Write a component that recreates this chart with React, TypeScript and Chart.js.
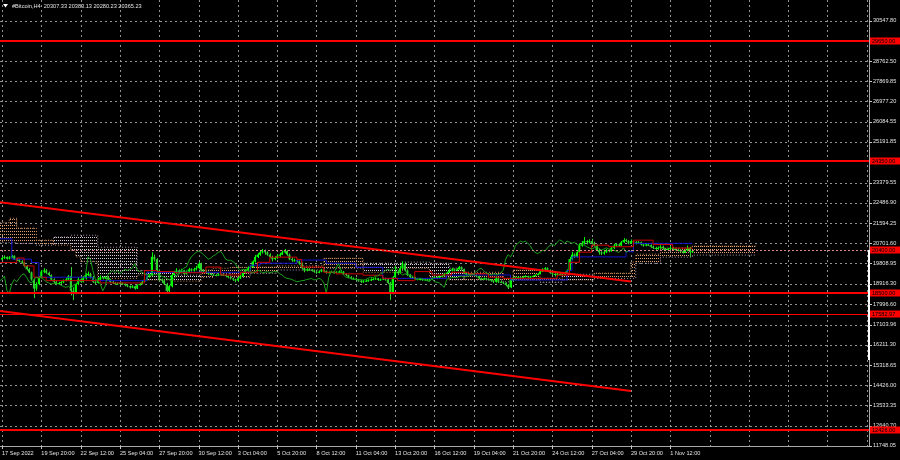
import React, { useEffect, useRef } from "react";
import { Chart, registerables } from "chart.js";

Chart.register(...registerables);

// ---------- DATA ----------
const titleText = "#Bitcoin,H4  20307.33 20383.13 20280.23 20365.23";
const firstOpen = 19980;

const closes = [
  20050, 20100, 20020, 20080, 20150, 20000,
  19980, 19900, 19850, 19700, 19550, 19420,
  19100, 18700, 18900, 19200, 19450, 19500,
  19400, 19300, 19100, 19000, 18900, 18950,
  18980, 19050, 19100, 19250, 18600, 18500,
  18900, 19100, 19000, 19150, 19300, 19350,
  19200, 19000, 18950, 19100, 19200, 19150,
  19200, 19100, 19000, 18950, 18900, 18920,
  18950, 18900, 18850, 18800, 18750, 18800,
  18700, 18850, 18900, 19000, 19100, 19200,
  19300, 20100, 20000, 19500, 19100, 19050,
  18900, 18600, 18800, 19300, 19400, 19500,
  19400, 19500, 19350, 19450, 19550, 19500,
  19550, 19600, 19800, 19500, 19450, 19420,
  19350, 19320, 19300, 19280, 19320, 19310,
  19300, 19250, 19200, 19150, 19100, 19050,
  19150, 19250, 19400, 19500, 19600, 19650,
  19900, 20100, 20200, 20300, 20350, 20300,
  20200, 20100, 20000, 20050, 20150, 20200,
  20300, 20350, 20200, 20000, 19950, 19950,
  19900, 19800, 19600, 19500, 19550, 19530,
  19500, 19450, 19400, 19450, 19500, 19480,
  19400, 19420, 19450, 19400, 19430, 19450,
  19450, 19350, 19300, 19200, 19150, 19130,
  19100, 19050, 19000, 19020, 19050, 19060,
  19100, 19120, 19150, 19080, 19100, 19150,
  19100, 18950, 18500, 19200, 19450, 19380,
  19600, 19800, 19500, 19300, 19200, 19180,
  19150, 19100, 19120, 19080, 19100, 19070,
  19100, 19150, 19200, 19180, 19250, 19260,
  19350, 19400, 19500, 19550, 19500, 19550,
  19650, 19550, 19400, 19300, 19350, 19330,
  19300, 19250, 19150, 19100, 19150, 19120,
  19100, 19050, 19000, 19150, 19000, 18980,
  18950, 18850, 18750, 19100, 19150, 19180,
  19200, 19180, 19220, 19250, 19200, 19230,
  19250, 19300, 19350, 19450, 19550, 19600,
  19500, 19400, 19350, 19300, 19350, 19330,
  19320, 19400, 19500, 20000, 20200, 20100,
  20300, 20600, 20700, 20800, 20750, 20800,
  20700, 20600, 20400, 20300, 20250, 20300,
  20400, 20350, 20500, 20600, 20650, 20600,
  20750, 20850, 20800, 20700, 20800, 20750,
  20700, 20750, 20650, 20600, 20650, 20620,
  20550, 20500, 20450, 20500, 20550, 20480,
  20400, 20450, 20500, 20450, 20420, 20400,
  20350, 20300, 20380, 20500, 20307, 20365,
];

const highs = [
  20090, 20160, 20120, 20130, 20190, 20170,
  20060, 20020, 19950, 19880, 19740, 19600,
  19450, 19150, 18980, 19260, 19520, 19600,
  19560, 19450, 19330, 19150, 19050, 19000,
  19030, 19100, 19160, 19300, 19650, 18750,
  18950, 19200, 19150, 19250, 19380, 19450,
  19400, 19250, 19080, 19180, 19280, 19230,
  19250, 19230, 19130, 19050, 18990, 18970,
  18990, 18980, 18930, 18900, 18840, 18850,
  18830, 18880, 18960, 19070, 19150, 19260,
  19350, 20300, 20200, 20050, 19550, 19150,
  19100, 18950, 18850, 19350, 19480, 19600,
  19550, 19580, 19530, 19500, 19620, 19600,
  19620, 19700, 19870, 19850, 19560, 19520,
  19450, 19400, 19360, 19340, 19380, 19360,
  19350, 19330, 19280, 19230, 19180, 19130,
  19200, 19300, 19450, 19560, 19680, 19740,
  19950, 20180, 20270, 20400, 20450, 20420,
  20350, 20260, 20150, 20120, 20220, 20280,
  20380, 20450, 20400, 20250, 20080, 20020,
  20000, 19950, 19850, 19650, 19600, 19600,
  19560, 19530, 19480, 19500, 19560, 19540,
  19500, 19460, 19490, 19470, 19470, 19500,
  19520, 19480, 19380, 19320, 19250, 19200,
  19180, 19130, 19080, 19080, 19100, 19110,
  19150, 19160, 19200, 19170, 19140, 19190,
  19180, 19130, 19000, 19250, 19700, 19500,
  19700, 19900, 19850, 19550, 19350, 19260,
  19220, 19180, 19160, 19150, 19140, 19130,
  19130, 19190, 19240, 19230, 19290, 19300,
  19390, 19450, 19560, 19620, 19590, 19600,
  19700, 19680, 19580, 19430, 19380, 19380,
  19370, 19330, 19280, 19180, 19190, 19180,
  19160, 19120, 19080, 19250, 19200, 19050,
  19000, 18980, 18900, 19150, 19220, 19230,
  19240, 19230, 19260, 19290, 19270, 19260,
  19280, 19330, 19390, 19500, 19600, 19650,
  19640, 19550, 19450, 19380, 19400, 19380,
  19360, 19450, 19550, 20100, 20320, 20250,
  20350, 20700, 20800, 20980, 20850, 20880,
  20900, 20780, 20650, 20450, 20350, 20370,
  20450, 20430, 20550, 20680, 20700, 20700,
  20800, 20930, 20900, 20850, 20870, 20840,
  20800, 20800, 20780, 20700, 20690, 20700,
  20650, 20600, 20550, 20560, 20620, 20600,
  20500, 20500, 20560, 20540, 20500, 20480,
  20450, 20400, 20420, 20600, 20550, 20383,
];

const lows = [
  19960, 20010, 19980, 19990, 20050, 19960,
  19920, 19860, 19800, 19640, 19500, 19380,
  19050, 18280, 18600, 18850, 19150, 19380,
  19350, 19250, 19050, 18920, 18850, 18880,
  18900, 18940, 19020, 19080, 18400, 18190,
  18450, 18850, 18950, 18970, 19100, 19250,
  19150, 18950, 18880, 18920, 19080, 19100,
  19120, 19070, 18960, 18900, 18860, 18870,
  18890, 18860, 18800, 18760, 18700, 18720,
  18650, 18680, 18830, 18880, 18970, 19060,
  19180, 19250, 19900, 19450, 19050, 18950,
  18850, 18480, 18550, 18750, 19250, 19350,
  19350, 19380, 19300, 19320, 19420, 19450,
  19450, 19500, 19550, 19450, 19380, 19370,
  19300, 19280, 19260, 19240, 19260, 19270,
  19260, 19200, 19150, 19100, 19040, 18980,
  19020, 19120, 19220, 19360, 19460, 19550,
  19620, 19850, 20050, 20150, 20250, 20200,
  20150, 20050, 19900, 19950, 20010, 20100,
  20180, 20250, 20150, 19950, 19880, 19890,
  19850, 19750, 19550, 19420, 19460, 19480,
  19450, 19400, 19350, 19380, 19420, 19440,
  19360, 19370, 19400, 19360, 19380, 19400,
  19400, 19300, 19250, 19150, 19100, 19080,
  19050, 19000, 18950, 18960, 19000, 19010,
  19030, 19070, 19090, 19040, 19050, 19080,
  19050, 18900, 18200, 18450, 19150, 19300,
  19350, 19550, 19450, 19250, 19150, 19120,
  19100, 19060, 19060, 19040, 19050, 19030,
  19050, 19080, 19130, 19140, 19160, 19220,
  19240, 19330, 19380, 19460, 19460, 19480,
  19530, 19500, 19350, 19250, 19280, 19290,
  19260, 19200, 19100, 19060, 19080, 19080,
  19050, 19000, 18950, 18960, 18950, 18940,
  18900, 18800, 18680, 18720, 19050, 19100,
  19150, 19140, 19160, 19190, 19170, 19170,
  19200, 19230, 19280, 19330, 19430, 19520,
  19450, 19350, 19280, 19230, 19270, 19290,
  19280, 19300, 19380, 19480, 19950, 20050,
  20080, 20280, 20550, 20650, 20650, 20700,
  20650, 20550, 20350, 20200, 20180, 20200,
  20270, 20300, 20330, 20450, 20550, 20550,
  20580, 20720, 20750, 20660, 20680, 20700,
  20650, 20680, 20600, 20550, 20570, 20580,
  20500, 20450, 20400, 20420, 20460, 20420,
  20350, 20370, 20420, 20400, 20380, 20350,
  20300, 20250, 20280, 20350, 20100, 20280,
];

// Ichimoku (step points: bar index where a value starts)
const tenkanIdx = [-1, 6, 9, 13, 18, 40, 58, 63, 70, 83, 89, 97, 104, 109, 120, 122, 131, 136, 147, 155, 161, 168, 175, 183, 190, 198, 204, 226, 231, 235, 240, 247, 257, 265, 273, 281];
const tenkanVal = [19850, 20050, 19700, 19200, 19050, 18950, 19500, 19450, 19400, 19650, 19300, 19420, 19860, 20090, 19990, 19650, 19420, 19350, 19290, 19150, 19050, 19450, 19300, 19420, 19350, 19200, 19150, 19290, 19860, 20310, 20620, 20550, 20840, 20650, 20490, 20490];

const kijunIdx = [-1, 4, 12, 15, 37, 59, 101, 105, 120, 132, 144, 155, 181, 190, 207, 230, 232, 254, 257, 281];
const kijunVal = [20900, 20000, 19850, 19200, 19050, 19420, 19730, 19820, 19960, 19820, 19640, 19150, 19290, 19300, 19080, 19500, 20100, 20330, 20700, 20700];

const cloudIdx = [-1, 3, 6, 14, 21, 28, 30, 32, 39, 55, 59, 70, 81, 86, 93, 101, 112, 131, 147, 163, 174, 182, 188, 204, 208, 219, 228, 241, 256, 258, 268, 281, 307];
const spanA = [21610, 21810, 21370, 20840, 20620, 20400, 20100, 19900, 19150, 19300, 19080, 19030, 19520, 19600, 19640, 19650, 19700, 20040, 19420, 19600, 19200, 19080, 19420, 19150, 19520, 19150, 19080, 19380, 19870, 20220, 20490, 20580, 20580];
const spanB = [20730, 20730, 20700, 20620, 20980, 21060, 21060, 21060, 20530, 19500, 19420, 19290, 19200, 19380, 19200, 19380, 19520, 19600, 19820, 19870, 19820, 19600, 19080, 19000, 19080, 18980, 19330, 19150, 19150, 19820, 20090, 20180, 20180];
const chikouShift = 26;

// Trend lines
const trendIdx = [-1, 256];
const trendUpper = [22520, 19010];
const trendLower = [17710, 14170];

// Horizontal levels
const levelValues = [29650.0, 24350.0, 20400.0, 18500.0, 17582.97, 12426.0];

// Axes
const yTickValues = [30547.8, 28762.5, 27869.85, 26977.2, 26084.55, 25191.85, 23379.55, 22486.9, 21594.25, 20701.6, 19808.95, 18916.3, 17996.6, 17103.96, 16211.3, 15318.65, 14426.0, 13533.35, 12640.7, 11748.05];
const xTickLabels = ["17 Sep 2022", "19 Sep 20:00", "22 Sep 12:00", "25 Sep 04:00", "27 Sep 20:00", "30 Sep 12:00", "3 Oct 04:00", "5 Oct 20:00", "8 Oct 12:00", "11 Oct 04:00", "13 Oct 20:00", "16 Oct 12:00", "19 Oct 04:00", "21 Oct 20:00", "24 Oct 12:00", "27 Oct 04:00", "29 Oct 20:00", "1 Nov 12:00"];
const barsPerLabel = 16;

// ---------- VIEW ----------
const X_MIN = -0.814;
const X_MAX = 352.9;
const Y_MIN = 11735;
const Y_MAX = 31464;
const FONT_FAMILY = "'Liberation Sans', Arial, sans-serif";
const FONT_SIZE = 5.6;
const TEXT_COLOR = "#e4e4e4";
const GRID_COLOR = "rgba(170,170,170,0.85)";

const levelColor = ["#ff0000", "#ff0000", "#d88888", "#ff0000", "#ff0000", "#ff0000"];
const levelWidth = [2, 2, 1, 2, 1, 2];
const levelDash: number[][] = [[], [], [2, 2], [], [], []];

export default function App() {
  const ref = useRef<HTMLCanvasElement>(null);

  useEffect(() => {
    document.body.style.margin = "0";
    document.body.style.background = "#000";
    const canvas = ref.current!;
    const ctx0 = canvas.getContext("2d")!;

    const makePattern = (color: string) => {
      const t = document.createElement("canvas");
      t.width = 2;
      t.height = 3;
      const g = t.getContext("2d")!;
      g.fillStyle = color;
      g.fillRect(0, 0, 1, 1);
      return ctx0.createPattern(t, "repeat")!;
    };
    const sandyPattern = makePattern("#e0a070");
    const thistlePattern = makePattern("#d8c8d8");

    const pts = (xs: number[], ys: number[]) => xs.map((x, k) => ({ x, y: ys[k] }));
    const opens = closes.map((c, i) => (i === 0 ? firstOpen : closes[i - 1]));
    const xTickIdx: number[] = [];
    for (let v = 0; v <= X_MAX; v += barsPerLabel) xTickIdx.push(v);

    const font = `${FONT_SIZE}px ${FONT_FAMILY}`;

    const drawCandles = (chart: any) => {
      const { ctx, scales } = chart;
      const xs = scales.x, ys = scales.y;
      ctx.save();
      for (let i = 0; i < closes.length; i++) {
        const o = opens[i], c = closes[i];
        const px = xs.getPixelForValue(i);
        ctx.fillStyle = c >= o ? "#00ff00" : "#2fd02f";
        const yh = ys.getPixelForValue(highs[i]);
        const yl = ys.getPixelForValue(lows[i]);
        ctx.fillRect(Math.round(px), yh, 1, Math.max(1, yl - yh));
        const yo = ys.getPixelForValue(o), yc = ys.getPixelForValue(c);
        ctx.fillRect(px - 1, Math.min(yo, yc), 2, Math.max(1, Math.abs(yc - yo)));
      }
      ctx.restore();
    };

    const mtPlugin = {
      id: "mt",
      beforeDraw(chart: any) {
        const { ctx, width, height } = chart;
        ctx.save();
        ctx.fillStyle = "#000";
        ctx.fillRect(0, 0, width, height);
        ctx.restore();
      },
      beforeDatasetsDraw(chart: any) {
        const { ctx, chartArea: a, scales } = chart;
        ctx.save();
        ctx.strokeStyle = GRID_COLOR;
        ctx.lineWidth = 1;
        ctx.setLineDash([2, 3]);
        for (const v of yTickValues) {
          const py = Math.round(scales.y.getPixelForValue(v)) + 0.5;
          ctx.beginPath();
          ctx.moveTo(a.left, py);
          ctx.lineTo(a.right, py);
          ctx.stroke();
        }
        for (const v of xTickIdx) {
          const px = Math.round(scales.x.getPixelForValue(v)) + 0.5;
          ctx.beginPath();
          ctx.moveTo(px, a.top);
          ctx.lineTo(px, a.bottom);
          ctx.stroke();
        }
        ctx.restore();
      },
      afterDatasetDraw(chart: any, args: any) {
        if (args.index === 1) drawCandles(chart);
      },
      afterDatasetsDraw(chart: any) {
        const { ctx, chartArea: a, scales } = chart;
        ctx.save();
        levelValues.forEach((v, k) => {
          const py = scales.y.getPixelForValue(v);
          ctx.strokeStyle = levelColor[k];
          ctx.lineWidth = levelWidth[k];
          ctx.setLineDash(levelDash[k]);
          ctx.beginPath();
          const yy = levelWidth[k] % 2 === 1 ? Math.round(py) + 0.5 : Math.round(py);
          ctx.moveTo(a.left, yy);
          ctx.lineTo(a.right, yy);
          ctx.stroke();
        });
        ctx.restore();
      },
      afterDraw(chart: any) {
        const { ctx, chartArea: a, scales, width } = chart;
        ctx.save();
        ctx.setLineDash([]);
        ctx.strokeStyle = "#a8a8a8";
        ctx.lineWidth = 1;
        ctx.beginPath();
        ctx.moveTo(a.right + 0.5, 0);
        ctx.lineTo(a.right + 0.5, a.bottom + 0.5);
        ctx.lineTo(a.left, a.bottom + 0.5);
        ctx.stroke();
        ctx.strokeStyle = "#ffffff";
        ctx.lineWidth = 2;
        ctx.beginPath();
        ctx.moveTo(a.right, scales.y.getPixelForValue(20400));
        ctx.lineTo(a.right, scales.y.getPixelForValue(15540));
        ctx.stroke();
        ctx.strokeStyle = "#c8c8c8";
        ctx.lineWidth = 1;
        for (const v of yTickValues) {
          const py = Math.round(scales.y.getPixelForValue(v)) + 0.5;
          ctx.beginPath();
          ctx.moveTo(a.right, py);
          ctx.lineTo(a.right + 3, py);
          ctx.stroke();
        }
        for (const v of xTickIdx) {
          if (v / barsPerLabel >= xTickLabels.length) continue;
          const px = Math.round(scales.x.getPixelForValue(v)) + 0.5;
          ctx.beginPath();
          ctx.moveTo(px, a.bottom);
          ctx.lineTo(px, a.bottom + 3);
          ctx.stroke();
        }
        ctx.font = font;
        ctx.textBaseline = "middle";
        ctx.textAlign = "left";
        levelValues.forEach((v) => {
          const py = Math.round(scales.y.getPixelForValue(v));
          ctx.fillStyle = "#ff0000";
          ctx.fillRect(a.right + 1, py - 3.5, width - a.right - 1, 7);
          ctx.fillStyle = "#000000";
          ctx.fillText(v.toFixed(2), a.right + 3, py + 0.5);
        });
        ctx.fillStyle = "#ffffff";
        ctx.beginPath();
        ctx.moveTo(3, 4);
        ctx.lineTo(8, 4);
        ctx.lineTo(5.5, 7.5);
        ctx.closePath();
        ctx.fill();
        ctx.fillStyle = TEXT_COLOR;
        ctx.fillText(titleText, 12, 6);
        ctx.restore();
      },
    };

    const common = { pointRadius: 0, pointHoverRadius: 0, borderWidth: 1, tension: 0 };

    const chart = new Chart(canvas, {
      type: "line",
      data: {
        datasets: [
          {
            ...common,
            label: "Senkou Span B",
            data: pts(cloudIdx, spanB),
            borderColor: "rgba(216,191,216,0.8)",
            borderDash: [1, 2],
            stepped: true,
            fill: false,
            order: 10,
          },
          {
            ...common,
            label: "Senkou Span A",
            data: pts(cloudIdx, spanA),
            borderColor: "rgba(244,164,96,0.85)",
            borderDash: [1, 2],
            stepped: true,
            fill: { target: 0, above: sandyPattern, below: thistlePattern },
            order: 9,
          },
          {
            ...common,
            label: "Kijun-sen",
            data: pts(kijunIdx, kijunVal),
            borderColor: "#1414d2",
            stepped: true,
            fill: false,
            order: 5,
          },
          {
            ...common,
            label: "Tenkan-sen",
            data: pts(tenkanIdx, tenkanVal),
            borderColor: "#d00000",
            stepped: true,
            fill: false,
            order: 4,
          },
          {
            ...common,
            label: "Chikou Span",
            data: closes.map((c, i) => ({ x: i - chikouShift, y: c })),
            borderColor: "#19a019",
            fill: false,
            order: 3,
          },
          {
            ...common,
            label: "Trend upper",
            data: pts(trendIdx, trendUpper),
            borderColor: "#ff0000",
            borderWidth: 2,
            fill: false,
            order: 1,
          },
          {
            ...common,
            label: "Trend lower",
            data: pts(trendIdx, trendLower),
            borderColor: "#ff0000",
            borderWidth: 2,
            fill: false,
            order: 1,
          },
        ],
      },
      options: {
        animation: false,
        responsive: false,
        devicePixelRatio: 1,
        events: [],
        layout: { padding: 0 },
        plugins: {
          legend: { display: false },
          tooltip: { enabled: false },
          title: { display: false },
        },
        scales: {
          x: {
            type: "linear",
            min: X_MIN,
            max: X_MAX,
            grid: { display: false, drawTicks: false },
            border: { display: false },
            afterBuildTicks: (s: any) => {
              s.ticks = xTickIdx.map((v) => ({ value: v }));
            },
            afterFit: (s: any) => {
              s.height = 14;
              s.paddingLeft = 0;
              s.paddingRight = 0;
            },
            ticks: {
              autoSkip: false,
              maxRotation: 0,
              minRotation: 0,
              align: "start",
              padding: 4,
              color: TEXT_COLOR,
              font: { family: FONT_FAMILY, size: FONT_SIZE },
              callback: (v: any) => {
                const k = Math.round(Number(v) / barsPerLabel);
                return xTickLabels[k] ?? "";
              },
            },
          },
          y: {
            type: "linear",
            position: "right",
            min: Y_MIN,
            max: Y_MAX,
            grid: { display: false, drawTicks: false },
            border: { display: false },
            afterBuildTicks: (s: any) => {
              s.ticks = yTickValues.map((v) => ({ value: v }));
            },
            afterFit: (s: any) => {
              s.width = 31;
              s.paddingTop = 0;
              s.paddingBottom = 0;
            },
            ticks: {
              autoSkip: false,
              padding: 4,
              color: TEXT_COLOR,
              font: { family: FONT_FAMILY, size: FONT_SIZE },
              callback: (v: any) => Number(v).toFixed(2),
            },
          },
        },
      } as any,
      plugins: [mtPlugin],
    });

    return () => chart.destroy();
  }, []);

  return (
    <div style={{ position: "absolute", left: 0, top: 0, width: 900, height: 460, background: "#000" }}>
      <canvas ref={ref} width={900} height={460} style={{ display: "block", width: 900, height: 460 }} />
    </div>
  );
}
